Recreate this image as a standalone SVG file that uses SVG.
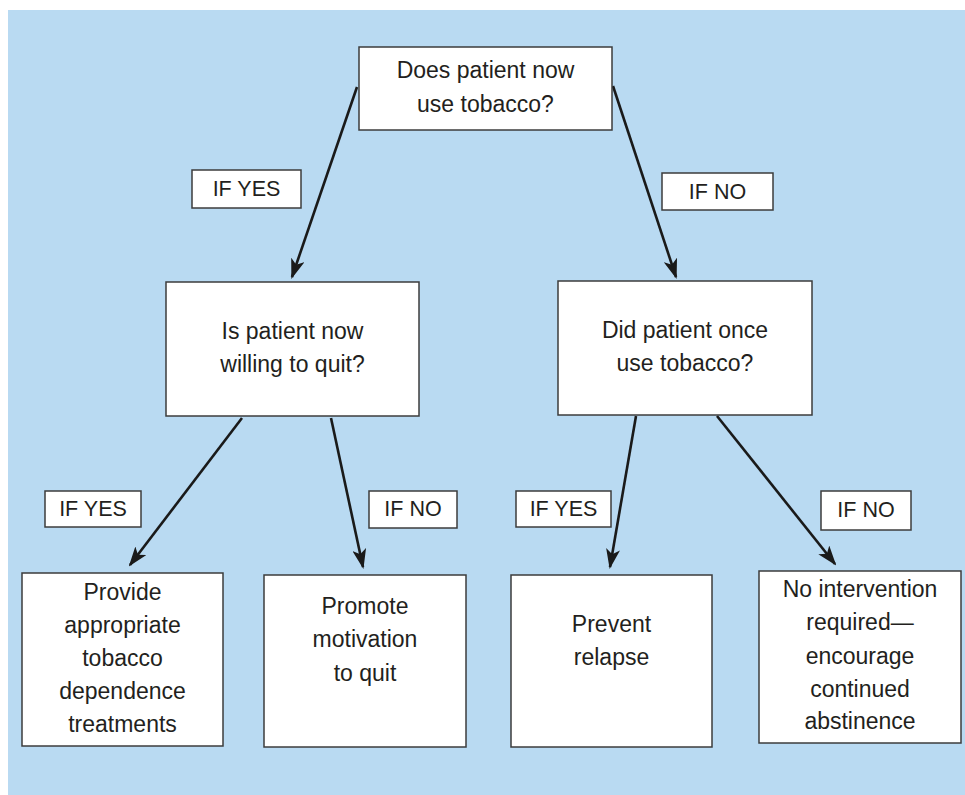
<svg xmlns="http://www.w3.org/2000/svg" width="965" height="795" viewBox="0 0 965 795">
<defs>
<style>
.box{fill:#fff;stroke:#3c3c3c;stroke-width:1.5}
.t{font-family:"Liberation Sans",Arial,sans-serif;font-size:23px;fill:#231f20;text-anchor:middle}
.l{font-family:"Liberation Sans",Arial,sans-serif;font-size:21.5px;fill:#231f20;text-anchor:middle}
.c{stroke:#1a1a1a;stroke-width:2.6;fill:none;marker-end:url(#ah)}
</style>
<marker id="ah" viewBox="0 0 20 14" refX="18" refY="7" markerWidth="20" markerHeight="14" markerUnits="userSpaceOnUse" orient="auto">
<path d="M0,0 L20,7 L0,14 L5,7 Z" fill="#1a1a1a"/>
</marker>
</defs>
<rect x="8" y="10" width="957" height="785" fill="#b9daf2"/>
<g id="connectors">
<line class="c" x1="357" y1="87" x2="292" y2="277"/>
<line class="c" x1="613" y1="86" x2="676" y2="277"/>
<line class="c" x1="242" y1="418" x2="130" y2="565"/>
<line class="c" x1="331" y1="418" x2="363" y2="567"/>
<line class="c" x1="636" y1="416" x2="610" y2="567"/>
<line class="c" x1="717" y1="416" x2="835" y2="564"/>
</g>
<g id="n-top"><rect class="box" x="359" y="47" width="253" height="83"/>
<text class="t" x="485.5" y="78">Does patient now</text><text class="t" x="485.5" y="112">use tobacco?</text></g>
<g id="n-willing"><rect class="box" x="166" y="282" width="253" height="134"/>
<text class="t" x="292.5" y="339">Is patient now</text><text class="t" x="292.5" y="372">willing to quit?</text></g>
<g id="n-once"><rect class="box" x="558" y="281" width="254" height="134"/>
<text class="t" x="685" y="338">Did patient once</text><text class="t" x="685" y="371">use tobacco?</text></g>
<g id="n-provide"><rect class="box" x="22" y="573" width="201" height="173"/>
<text class="t" x="122.5" y="600">Provide</text><text class="t" x="122.5" y="633">appropriate</text><text class="t" x="122.5" y="666">tobacco</text><text class="t" x="122.5" y="699">dependence</text><text class="t" x="122.5" y="732">treatments</text></g>
<g id="n-promote"><rect class="box" x="264" y="575" width="202" height="172"/>
<text class="t" x="365" y="614">Promote</text><text class="t" x="365" y="647">motivation</text><text class="t" x="365" y="681">to quit</text></g>
<g id="n-prevent"><rect class="box" x="511" y="575" width="201" height="172"/>
<text class="t" x="611.5" y="632">Prevent</text><text class="t" x="611.5" y="665">relapse</text></g>
<g id="n-none"><rect class="box" x="759" y="571" width="202" height="172"/>
<text class="t" x="860" y="597">No intervention</text><text class="t" x="860" y="630">required—</text><text class="t" x="860" y="664">encourage</text><text class="t" x="860" y="697">continued</text><text class="t" x="860" y="729">abstinence</text></g>
<g id="lbl-yes1"><rect class="box" x="192" y="170" width="109" height="38"/><text class="l" x="246.5" y="196">IF YES</text></g>
<g id="lbl-no1"><rect class="box" x="662" y="173" width="111" height="37"/><text class="l" x="717.5" y="199">IF NO</text></g>
<g id="lbl-yes2"><rect class="box" x="45" y="491" width="96" height="36"/><text class="l" x="93" y="516">IF YES</text></g>
<g id="lbl-no2"><rect class="box" x="369" y="491" width="88" height="37"/><text class="l" x="413" y="516">IF NO</text></g>
<g id="lbl-yes3"><rect class="box" x="516" y="491" width="95" height="36"/><text class="l" x="563.5" y="516">IF YES</text></g>
<g id="lbl-no3"><rect class="box" x="821" y="491" width="90" height="39"/><text class="l" x="866" y="517">IF NO</text></g>
</svg>
